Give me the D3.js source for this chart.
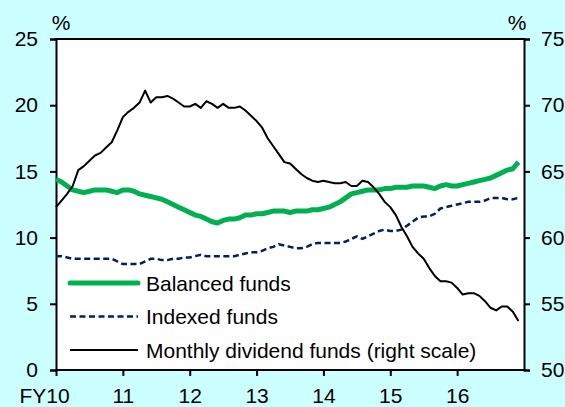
<!DOCTYPE html><html><head><meta charset="UTF-8"><script src="https://d3js.org/d3.v7.min.js"></script><style>
            body { margin: 0; background: #ccffff; }
            #chart { width: 565px; height: 407px; font-family: Arial, "Liberation Sans", sans-serif; }
            .tick text { font-size: 21px; fill: #000; }
            .legend text { font-size: 21px; }
        </style></head><body><div id="chart"></div><script>
            // monthly observations, April 2010 to March 2017 (84 months)
            const yearLabels = ["FY10", "11", "12", "13", "14", "15", "16"];
            const leftTicks = [0, 5, 10, 15, 20, 25];
            const rightTicks = [50, 55, 60, 65, 70, 75];

            const balanced = [14.4, 14.2, 13.9, 13.6, 13.5, 13.4, 13.5, 13.6, 13.6, 13.6, 13.5, 13.4,
                13.6, 13.6, 13.5, 13.3, 13.2, 13.1, 13.0, 12.9, 12.7, 12.5, 12.3, 12.1,
                11.9, 11.7, 11.6, 11.4, 11.2, 11.1, 11.3, 11.4, 11.4, 11.5, 11.7, 11.7,
                11.8, 11.8, 11.9, 12.0, 12.0, 12.0, 11.9, 12.0, 12.0, 12.0, 12.1, 12.1,
                12.2, 12.3, 12.5, 12.7, 13.0, 13.3, 13.4, 13.5, 13.6, 13.6, 13.6, 13.7,
                13.7, 13.8, 13.8, 13.8, 13.9, 13.9, 13.9, 13.8, 13.7, 13.9, 14.0, 13.9,
                13.9, 14.0, 14.1, 14.2, 14.3, 14.4, 14.5, 14.7, 14.9, 15.1, 15.2, 15.7];

            const indexed = [8.6, 8.6, 8.5, 8.4, 8.4, 8.4, 8.4, 8.4, 8.4, 8.4, 8.4, 8.2,
                8.0, 8.0, 8.0, 8.0, 8.2, 8.4, 8.4, 8.3, 8.3, 8.4, 8.4, 8.5,
                8.5, 8.6, 8.7, 8.6, 8.6, 8.6, 8.6, 8.6, 8.6, 8.7, 8.8, 8.9,
                8.9, 9.0, 9.2, 9.3, 9.5, 9.4, 9.3, 9.2, 9.2, 9.3, 9.5, 9.6,
                9.6, 9.6, 9.6, 9.6, 9.7, 9.9, 10.1, 9.9, 10.1, 10.3, 10.5, 10.6,
                10.5, 10.5, 10.6, 10.9, 11.2, 11.5, 11.6, 11.6, 11.8, 12.2, 12.3, 12.4,
                12.5, 12.6, 12.7, 12.7, 12.7, 12.8, 13.0, 13.0, 13.0, 12.9, 12.9, 13.0];

            const monthlyDividend = [62.3, 62.8, 63.3, 63.9, 65.1, 65.4, 65.8, 66.2, 66.4, 66.8, 67.2, 68.1,
                69.1, 69.5, 69.8, 70.2, 71.1, 70.2, 70.6, 70.6, 70.7, 70.5, 70.2, 69.9,
                69.9, 70.1, 69.8, 70.3, 70.1, 69.8, 70.1, 69.8, 69.8, 69.9, 69.6, 69.2,
                68.8, 68.3, 67.5, 66.9, 66.3, 65.7, 65.6, 65.2, 64.8, 64.5, 64.3, 64.2,
                64.3, 64.2, 64.1, 64.1, 64.2, 63.9, 63.9, 64.3, 64.2, 63.8, 63.3, 62.7,
                62.3, 61.7, 60.8, 60.1, 59.3, 58.8, 58.4, 57.7, 57.1, 56.7, 56.7, 56.6,
                56.2, 55.7, 55.8, 55.8, 55.6, 55.2, 54.7, 54.5, 54.8, 54.8, 54.4, 53.7];

            const legendItems = [
                {label: "Balanced funds", color: "#00b050", width: 5, dash: null},
                {label: "Indexed funds", color: "#002060", width: 2.5, dash: "6,3.5"},
                {label: "Monthly dividend funds (right scale)", color: "#000", width: 2, dash: null}
            ];

            const plotLeft = 56, plotRight = 524, plotTop = 39, plotBottom = 370;

            const svg = d3.select('#chart')
                .append('svg')
                .attr('width', 565)
                .attr('height', 407);

            const x = d3.scaleLinear().domain([0, 84]).range([plotLeft, plotRight]);
            const yLeft = d3.scaleLinear().domain([0, 25]).range([plotBottom, plotTop]);
            const yRight = d3.scaleLinear().domain([50, 75]).range([plotBottom, plotTop]);

            svg.append('rect')
                .attr('x', plotLeft).attr('y', plotTop)
                .attr('width', plotRight - plotLeft).attr('height', plotBottom - plotTop)
                .attr('fill', '#fff');

            // axes
            const axL = svg.append('g')
                .attr('transform', `translate(${plotLeft},0)`)
                .call(d3.axisLeft(yLeft).tickValues(leftTicks).tickSize(6).tickPadding(12));
            const axR = svg.append('g')
                .attr('transform', `translate(${plotRight},0)`)
                .call(d3.axisRight(yRight).tickValues(rightTicks).tickSize(6).tickPadding(11));
            const axB = svg.append('g')
                .attr('transform', `translate(0,${plotBottom})`)
                .call(d3.axisBottom(x).tickValues(d3.range(0, 84, 12))
                    .tickFormat((d, i) => yearLabels[i]).tickSize(6).tickPadding(12));

            [axL, axR, axB].forEach(a => {
                a.select('.domain').attr('stroke', '#000').attr('stroke-width', 2);
                a.selectAll('.tick line').attr('stroke', '#000').attr('stroke-width', 2);
                a.selectAll('.tick text').style('font-family', 'Arial, "Liberation Sans", sans-serif');
            });
            axB.select('.domain').attr('d', `M${plotLeft},0H${plotRight}`);
            axB.selectAll('.tick text').filter((d, i) => i === 0).attr('dx', -12);

            svg.append('line')
                .attr('x1', plotLeft - 1).attr('x2', plotRight + 1)
                .attr('y1', plotTop).attr('y2', plotTop)
                .attr('stroke', '#000').attr('stroke-width', 2);

            svg.append('text').attr('x', 61).attr('y', 30).attr('text-anchor', 'middle')
                .style('font-size', '21px').text('%');
            svg.append('text').attr('x', 517).attr('y', 30).attr('text-anchor', 'middle')
                .style('font-size', '21px').text('%');

            // series
            const lineL = d3.line().x((d, i) => x(i)).y(d => yLeft(d));
            const lineR = d3.line().x((d, i) => x(i)).y(d => yRight(d));

            svg.append('path').datum(indexed)
                .attr('d', lineL).attr('fill', 'none')
                .attr('stroke', '#002060').attr('stroke-width', 2.5)
                .attr('stroke-dasharray', '6,3.5');
            svg.append('path').datum(balanced)
                .attr('d', lineL).attr('fill', 'none')
                .attr('stroke', '#00b050').attr('stroke-width', 5)
                .attr('stroke-linejoin', 'round');
            svg.append('path').datum(monthlyDividend)
                .attr('d', lineR).attr('fill', 'none')
                .attr('stroke', '#000').attr('stroke-width', 2)
                .attr('stroke-linejoin', 'round');

            // legend
            const legend = svg.append('g').attr('class', 'legend');
            const items = legend.selectAll('g')
                .data(legendItems)
                .enter().append('g')
                .attr('transform', (d, i) => `translate(70,${283 + i * 33.5})`);
            items.append('line')
                .attr('x1', 0).attr('x2', 68)
                .attr('stroke', d => d.color)
                .attr('stroke-width', d => d.width)
                .attr('stroke-dasharray', d => d.dash)
                .attr('stroke-linecap', d => d.width > 4 ? 'round' : 'butt');
            items.append('text')
                .attr('x', 76).attr('y', 7.5)
                .text(d => d.label);
        </script></body></html>
